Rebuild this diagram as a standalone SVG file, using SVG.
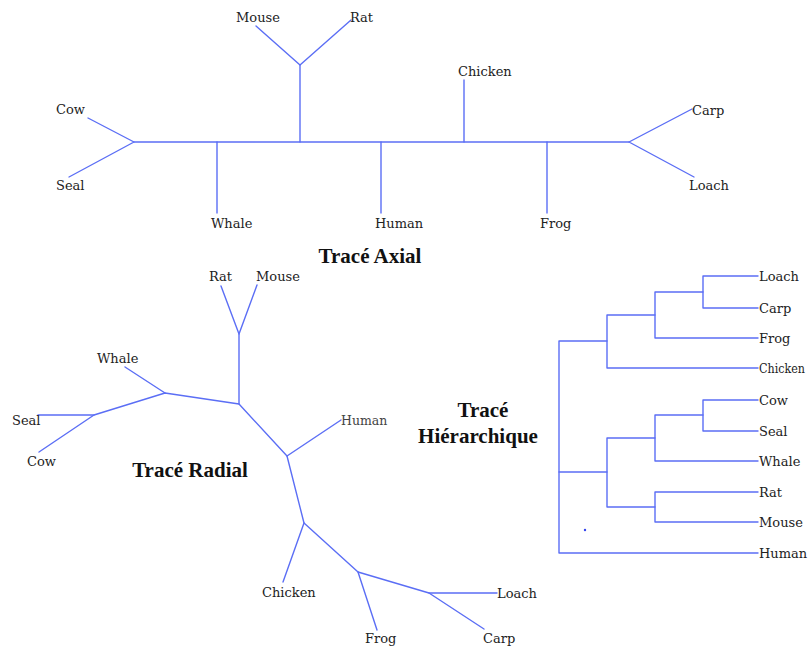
<svg xmlns="http://www.w3.org/2000/svg" width="811" height="647" viewBox="0 0 811 647">
<style>
.e{stroke:#5b6ef5;stroke-width:1.4;fill:none;stroke-linecap:round;stroke-linejoin:round}
.l{font-family:"DejaVu Serif","Liberation Serif",serif;font-size:13px;fill:#222}
.t{font-family:"Liberation Serif","Times New Roman",serif;font-size:21px;font-weight:bold;fill:#111}
</style>
<rect width="811" height="647" fill="#fff"/>
<g id="connectors">
<polyline class="e" points="88,118 134,142 69,177"/>
<line class="e" x1="134" y1="142" x2="629" y2="142"/>
<line class="e" x1="217" y1="142" x2="217" y2="213"/>
<polyline class="e" points="256,26 300,65 351,20"/>
<line class="e" x1="300" y1="65" x2="300" y2="142"/>
<line class="e" x1="381" y1="142" x2="381" y2="213"/>
<line class="e" x1="464" y1="80" x2="464" y2="142"/>
<line class="e" x1="547" y1="142" x2="547" y2="213"/>
<polyline class="e" points="692,109 629,142 694,177"/>
<polyline class="e" points="221,286 239,334 257,285"/>
<polyline class="e" points="239,334 239,404 287,456 304,523 358,572 429,593 497,593"/>
<line class="e" x1="429" y1="593" x2="484" y2="629"/>
<line class="e" x1="358" y1="572" x2="377" y2="630"/>
<line class="e" x1="304" y1="523" x2="283" y2="582"/>
<line class="e" x1="287" y1="456" x2="341" y2="420"/>
<polyline class="e" points="239,404 165,393 94,415 38,415"/>
<line class="e" x1="165" y1="393" x2="125" y2="367"/>
<line class="e" x1="94" y1="415" x2="39" y2="452"/>
<polyline class="e" points="758,276 703,276 703,308 758,308"/>
<polyline class="e" points="703,292 655,292 655,338 758,338"/>
<polyline class="e" points="655,315 607,315 607,368 758,368"/>
<polyline class="e" points="758,400 703,400 703,431 758,431"/>
<polyline class="e" points="703,415 655,415 655,461 758,461"/>
<polyline class="e" points="758,492 655,492 655,522 758,522"/>
<polyline class="e" points="655,438 607,438 607,507 655,507"/>
<polyline class="e" points="607,341 559,341 559,553 758,553"/>
<line class="e" x1="559" y1="472" x2="607" y2="472"/>
<circle cx="585" cy="530" r="1.2" fill="#3344ee"/>
</g>
<g id="axial">
<g id="ax-mouse"><text class="l" x="236" y="22">Mouse</text></g>
<g id="ax-rat"><text class="l" x="350" y="22">Rat</text></g>
<g id="ax-cow"><text class="l" x="56" y="114">Cow</text></g>
<g id="ax-seal"><text class="l" x="56" y="190">Seal</text></g>
<g id="ax-whale"><text class="l" x="211" y="228">Whale</text></g>
<g id="ax-human"><text class="l" x="375" y="228">Human</text></g>
<g id="ax-chicken"><text class="l" x="458" y="76">Chicken</text></g>
<g id="ax-frog"><text class="l" x="540" y="228">Frog</text></g>
<g id="ax-carp"><text class="l" x="692" y="115">Carp</text></g>
<g id="ax-loach"><text class="l" x="689" y="190">Loach</text></g>
</g>
<g id="radial">
<g id="ra-rat"><text class="l" x="209" y="281">Rat</text></g>
<g id="ra-mouse"><text class="l" x="256" y="281">Mouse</text></g>
<g id="ra-whale"><text class="l" x="97" y="363">Whale</text></g>
<g id="ra-seal"><text class="l" x="12" y="425">Seal</text></g>
<g id="ra-cow"><text class="l" x="27" y="466">Cow</text></g>
<g id="ra-human"><text class="l" x="341" y="425" style="fill:#444;font-size:12.5px">Human</text></g>
<g id="ra-chicken"><text class="l" x="262" y="597">Chicken</text></g>
<g id="ra-frog"><text class="l" x="365" y="643">Frog</text></g>
<g id="ra-carp"><text class="l" x="483" y="643">Carp</text></g>
<g id="ra-loach"><text class="l" x="497" y="598">Loach</text></g>
</g>
<g id="hierarchical">
<g id="hi-loach"><text class="l" x="759" y="281">Loach</text></g>
<g id="hi-carp"><text class="l" x="759" y="313">Carp</text></g>
<g id="hi-frog"><text class="l" x="759" y="343">Frog</text></g>
<g id="hi-chicken"><text class="l" x="759" y="373" style="font-size:12px" textLength="46" lengthAdjust="spacingAndGlyphs">Chicken</text></g>
<g id="hi-cow"><text class="l" x="759" y="405">Cow</text></g>
<g id="hi-seal"><text class="l" x="759" y="436">Seal</text></g>
<g id="hi-whale"><text class="l" x="759" y="466">Whale</text></g>
<g id="hi-rat"><text class="l" x="759" y="497">Rat</text></g>
<g id="hi-mouse"><text class="l" x="759" y="527">Mouse</text></g>
<g id="hi-human"><text class="l" x="759" y="558">Human</text></g>
</g>
<g id="titles">
<text class="t" x="370" y="263" text-anchor="middle">Tracé Axial</text>
<text class="t" x="190" y="477" text-anchor="middle">Tracé Radial</text>
<text class="t" x="483" y="417" text-anchor="middle">Tracé</text>
<text class="t" x="478" y="443" text-anchor="middle">Hiérarchique</text>
</g>
</svg>
